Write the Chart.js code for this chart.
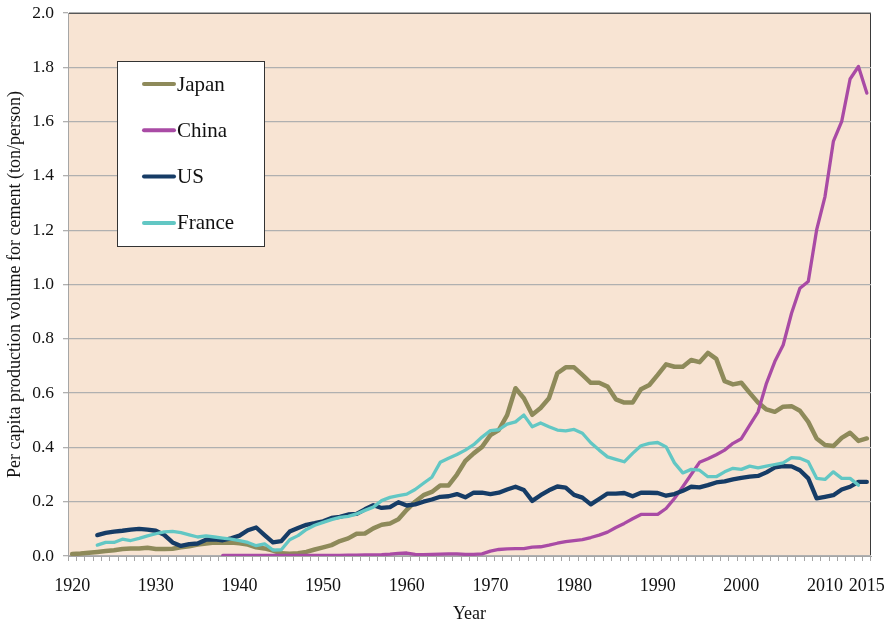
<!DOCTYPE html>
<html>
<head>
<meta charset="utf-8">
<script src="https://cdn.jsdelivr.net/npm/chart.js@4"></script>
<style>
  body { margin: 0; background: #fff; }
  #wrap { width: 889px; height: 626px; }
</style>
</head>
<body>
<div id="wrap"><canvas id="chart" width="889" height="626"></canvas></div>
<script>
const years = [
  1920, 1921, 1922, 1923, 1924, 1925, 1926, 1927, 1928, 1929,
  1930, 1931, 1932, 1933, 1934, 1935, 1936, 1937, 1938, 1939,
  1940, 1941, 1942, 1943, 1944, 1945, 1946, 1947, 1948, 1949,
  1950, 1951, 1952, 1953, 1954, 1955, 1956, 1957, 1958, 1959,
  1960, 1961, 1962, 1963, 1964, 1965, 1966, 1967, 1968, 1969,
  1970, 1971, 1972, 1973, 1974, 1975, 1976, 1977, 1978, 1979,
  1980, 1981, 1982, 1983, 1984, 1985, 1986, 1987, 1988, 1989,
  1990, 1991, 1992, 1993, 1994, 1995, 1996, 1997, 1998, 1999,
  2000, 2001, 2002, 2003, 2004, 2005, 2006, 2007, 2008, 2009,
  2010, 2011, 2012, 2013, 2014, 2015
];

// years that get a label under the axis
const shownYears = [1920, 1930, 1940, 1950, 1960, 1970, 1980, 1990, 2000, 2010, 2015];

const japan = [
  0.007, 0.009, 0.012, 0.015, 0.018, 0.021, 0.026, 0.028, 0.028, 0.030,
  0.026, 0.026, 0.027, 0.032, 0.036, 0.042, 0.046, 0.050, 0.049, 0.050,
  0.047, 0.042, 0.032, 0.028, 0.020, 0.010, 0.008, 0.010, 0.015, 0.024,
  0.032, 0.040, 0.055, 0.065, 0.082, 0.083, 0.102, 0.115, 0.120, 0.135,
  0.170, 0.200, 0.224, 0.236, 0.260, 0.260, 0.300, 0.350, 0.378, 0.402,
  0.445, 0.464, 0.519, 0.618, 0.581, 0.520, 0.545, 0.581, 0.673, 0.695,
  0.695, 0.667, 0.638, 0.638, 0.624, 0.577, 0.565, 0.565, 0.614, 0.630,
  0.667, 0.706, 0.697, 0.697, 0.722, 0.714, 0.748, 0.726, 0.644, 0.632,
  0.638, 0.601, 0.565, 0.540, 0.531, 0.550, 0.552, 0.535, 0.494, 0.433,
  0.409, 0.405, 0.435, 0.454, 0.424, 0.433
];

const china = [
  null, null, null, null, null, null, null, null, null, null,
  null, null, null, null, null, null, null, null, 0.002, 0.002,
  0.002, 0.002, 0.002, 0.002, 0.002, 0.002, 0.002, 0.002, 0.002, 0.002,
  0.002, 0.002, 0.002, 0.003, 0.003, 0.004, 0.004, 0.005, 0.007, 0.010,
  0.011, 0.006, 0.005, 0.006, 0.007, 0.008, 0.008, 0.006, 0.006, 0.008,
  0.018, 0.024, 0.026, 0.027, 0.027, 0.033, 0.034, 0.040, 0.047, 0.053,
  0.057, 0.060, 0.068, 0.077, 0.088, 0.105, 0.120, 0.137, 0.153, 0.153,
  0.153, 0.175, 0.212, 0.255, 0.300, 0.345, 0.358, 0.373, 0.390, 0.415,
  0.432, 0.482, 0.531, 0.636, 0.716, 0.777, 0.894, 0.986, 1.011, 1.201,
  1.324, 1.527, 1.601, 1.757, 1.803, 1.705
];

const us = [
  null, null, null, 0.077, 0.085, 0.090, 0.093, 0.097, 0.100, 0.097,
  0.093, 0.078, 0.050, 0.037, 0.044, 0.046, 0.060, 0.061, 0.058, 0.065,
  0.075, 0.095, 0.105, 0.077, 0.050, 0.055, 0.090, 0.103, 0.115, 0.121,
  0.128, 0.140, 0.144, 0.153, 0.155, 0.172, 0.187, 0.177, 0.180, 0.198,
  0.186, 0.190, 0.200, 0.208, 0.218, 0.220, 0.228, 0.216, 0.233, 0.233,
  0.228, 0.233, 0.245, 0.255, 0.243, 0.203, 0.224, 0.242, 0.256, 0.252,
  0.225, 0.215, 0.190, 0.210, 0.230, 0.230, 0.232, 0.220, 0.233, 0.233,
  0.232, 0.222, 0.228, 0.240, 0.255, 0.253, 0.261, 0.271, 0.275, 0.282,
  0.288, 0.292, 0.295, 0.308, 0.326, 0.331, 0.330, 0.316, 0.286, 0.212,
  0.218, 0.224, 0.245, 0.255, 0.273, 0.273
];

const france = [
  null, null, null, 0.040, 0.050, 0.050, 0.062, 0.057, 0.065, 0.074,
  0.082, 0.089, 0.091, 0.086, 0.078, 0.070, 0.074, 0.070, 0.066, 0.062,
  0.057, 0.050, 0.038, 0.045, 0.022, 0.023, 0.060, 0.075, 0.098, 0.113,
  0.124, 0.134, 0.142, 0.146, 0.155, 0.168, 0.180, 0.204, 0.216, 0.222,
  0.228, 0.245, 0.268, 0.290, 0.345, 0.360, 0.374, 0.390, 0.410, 0.438,
  0.462, 0.465, 0.486, 0.494, 0.519, 0.476, 0.490, 0.476, 0.464, 0.461,
  0.466, 0.452, 0.417, 0.390, 0.365, 0.356, 0.347, 0.378, 0.406, 0.415,
  0.418, 0.402, 0.343, 0.306, 0.319, 0.316, 0.292, 0.292, 0.310, 0.323,
  0.319, 0.331, 0.325, 0.331, 0.337, 0.343, 0.362, 0.360, 0.347, 0.286,
  0.282, 0.310, 0.286, 0.286, 0.261, null
];

const serif = "'Liberation Serif', 'Times New Roman', serif";

// peach plot area plus the dark frame around it
const plotBackground = {
  id: 'plotBackground',
  beforeDraw(chart) {
    const { ctx, chartArea: a } = chart;
    ctx.save();
    ctx.fillStyle = '#f8e4d3';
    ctx.fillRect(a.left, a.top, a.right - a.left, a.bottom - a.top);
    ctx.strokeStyle = '#3a3a3a';
    ctx.lineWidth = 1;
    ctx.strokeRect(a.left + 0.5, a.top + 0.5, a.right - a.left - 1, a.bottom - a.top - 1);
    ctx.restore();
  }
};

// boxed legend sitting inside the plot, upper left
const boxLegend = {
  id: 'boxLegend',
  afterDatasetsDraw(chart) {
    const ctx = chart.ctx;
    const x = 117, y = 61, w = 147, h = 185;
    ctx.save();
    ctx.fillStyle = '#ffffff';
    ctx.fillRect(x, y, w, h);
    ctx.strokeStyle = '#333333';
    ctx.lineWidth = 1;
    ctx.strokeRect(x + 0.5, y + 0.5, w, h);
    ctx.font = '21px ' + serif;
    ctx.textBaseline = 'middle';
    ctx.lineCap = 'round';
    chart.data.datasets.forEach((ds, i) => {
      const ly = 84 + i * 46.3;
      ctx.strokeStyle = ds.borderColor;
      ctx.lineWidth = 4;
      ctx.beginPath();
      ctx.moveTo(144, ly);
      ctx.lineTo(174, ly);
      ctx.stroke();
      ctx.fillStyle = '#111111';
      ctx.fillText(ds.label, 177, ly + 1);
    });
    ctx.restore();
  }
};

function series(label, data, color, width, order) {
  return {
    label: label,
    data: data,
    borderColor: color,
    backgroundColor: color,
    borderWidth: width,
    pointRadius: 0,
    tension: 0,
    borderJoinStyle: 'round',
    borderCapStyle: 'round',
    spanGaps: false,
    order: order
  };
}

new Chart(document.getElementById('chart'), {
  type: 'line',
  data: {
    labels: years,
    datasets: [
      series('Japan', japan, '#8e8a5a', 4.5, 4),
      series('China', china, '#a94ba5', 3.3, 3),
      series('US', us, '#163c66', 4.3, 2),
      series('France', france, '#62c7c4', 3.3, 1)
    ]
  },
  options: {
    responsive: false,
    animation: false,
    layout: { padding: { top: 13, right: 18, left: 0, bottom: 0 } },
    plugins: {
      legend: { display: false },
      tooltip: { enabled: false }
    },
    scales: {
      x: {
        type: 'category',
        offset: true,
        grid: {
          offset: true,
          drawOnChartArea: false,
          drawTicks: true,
          tickLength: 5,
          color: '#a6a6a6'
        },
        border: { color: '#a6a6a6', width: 1 },
        ticks: {
          autoSkip: false,
          maxRotation: 0,
          minRotation: 0,
          padding: 14,
          color: '#111111',
          font: { family: serif, size: 18 },
          callback: function(val, i) {
            const yr = years[i];
            return shownYears.includes(yr) ? String(yr) : '';
          }
        },
        title: {
          display: true,
          text: 'Year',
          color: '#111111',
          font: { family: serif, size: 18 },
          padding: { top: 0, bottom: 1 }
        },
        afterFit(scale) {
          scale.height = 70;
          scale.paddingLeft = 0;
          scale.paddingRight = 0;
        }
      },
      y: {
        min: 0,
        max: 2,
        grid: {
          color: '#b0b0b0',
          lineWidth: 1.3,
          drawTicks: true,
          tickLength: 5
        },
        border: { color: '#a6a6a6', width: 1 },
        ticks: {
          stepSize: 0.2,
          padding: 9,
          color: '#111111',
          font: { family: serif, size: 17.5 },
          callback: v => v.toFixed(1)
        },
        title: {
          display: true,
          text: 'Per capita production volume for cement (ton/person)',
          color: '#111111',
          font: { family: serif, size: 18 },
          padding: { top: 4, bottom: 0 }
        },
        afterFit(scale) {
          scale.width = 68;
          scale.paddingTop = 0;
          scale.paddingBottom = 0;
        }
      }
    }
  },
  plugins: [plotBackground, boxLegend]
});
</script>
</body>
</html>
